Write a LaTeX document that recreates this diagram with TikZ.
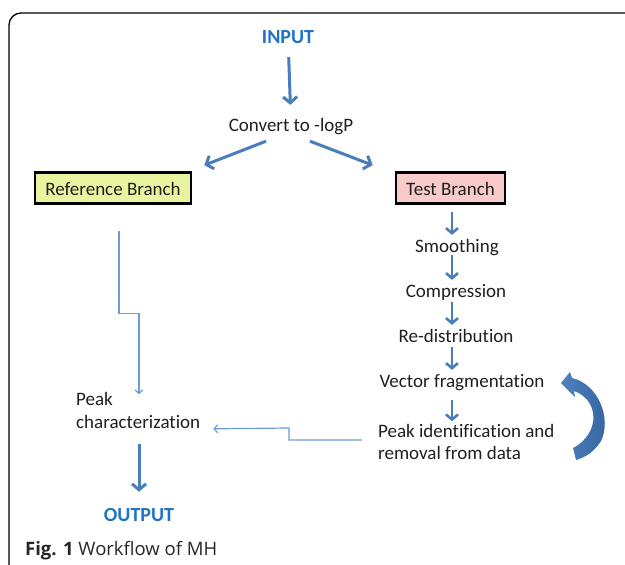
\documentclass[tikz,border=0pt]{standalone}
\usepackage{fontspec}
\setmainfont[Ligatures=NoCommon]{Carlito}
\newfontfamily\capfont{Open Sans}
\usetikzlibrary{arrows.meta,calc}
\definecolor{flowblue}{HTML}{4A7EBB}
\definecolor{linkblue}{HTML}{6B9BD8}
\definecolor{titleblue}{HTML}{1F73C6}
\definecolor{refyellow}{HTML}{EAF4A0}
\definecolor{testpink}{HTML}{F8CACA}
\definecolor{loopdark}{HTML}{34639F}
\definecolor{looplight}{HTML}{4F81BD}
% fixed line height for the two-line labels
\newcommand\lnstrut{\rule[-4pt]{0pt}{16pt}}
\begin{document}
\begin{tikzpicture}[x=1pt,y=-1pt,
  txt/.style={font=\fontsize{19}{23}\selectfont, text=black!88, inner sep=0pt,
              text height=15pt, text depth=1pt},
  multi/.style={font=\fontsize{19}{23}\selectfont, text=black!88, inner sep=0pt,
                align=left, anchor=west},
  title/.style={txt, font=\fontsize{20}{23}\selectfont\bfseries, text=titleblue},
  branch/.style={txt, draw=black, line width=2.6pt, minimum height=31pt},
  bigarrow/.style={draw=flowblue, line width=3pt,
                   -{Straight Barb[length=6pt,width=14pt]}},
  smallarrow/.style={draw=flowblue, line width=2.6pt,
                     -{Straight Barb[length=5pt,width=12pt]}},
  thinarrow/.style={draw=linkblue, line width=1.2pt,
                    -{Straight Barb[length=3.5pt,width=8pt]}}]
\useasboundingbox (0,0) rectangle (625,565);

% outer frame, open to the right and the bottom
\draw[line width=1.3pt, rounded corners=12pt] (9,566) -- (9,13) -- (627,13);

% nodes
\node[title] (in) at (288,36) {INPUT};
\node[txt] (conv) at (291,124) {Convert to -logP};
\node[branch, fill=refyellow, minimum width=156pt] (ref) at (113,188) {Reference Branch};
\node[branch, fill=testpink, minimum width=109pt] (test) at (450.5,188) {Test Branch};
\node[txt] (smooth) at (457,245) {Smoothing};
\node[txt] (comp) at (456,290) {Compression};
\node[txt] (redist) at (456,335) {Re-distribution};
\node[txt] (vec) at (462,380) {Vector fragmentation};
\node[multi, font=\fontsize{19}{22}\selectfont] (peakid) at (378,444)
  {\lnstrut Peak identification and\\\lnstrut removal from data};
\node[multi] (peakch) at (76,412.5) {\lnstrut Peak\\\lnstrut characterization};
\node[title] (out) at (139,514) {OUTPUT};
\node[font=\capfont\fontsize{18.5}{21}\selectfont, text=black!85, inner sep=0pt, anchor=west]
  (cap) at (25,551) {\textbf{Fig. 1} Workflow of MH};

\coordinate (col) at (452,0);

% main flow
\draw[bigarrow, shorten <=13pt, shorten >=11pt] (in) -- (conv);
\draw[bigarrow] ($(conv.south)+(-25,9)$) -- ($(ref.north east)+(12,-6)$);
\draw[bigarrow] ($(conv.south)+(19,9)$) -- ($(test.north west)+(-22,-6)$);
\draw[bigarrow] ($(peakch.south west)+(63,11)$) -- ($(out.north)+(0,-14)$);

% test branch steps
\draw[smallarrow] ($(test.south -| col)+(0,7)$) -- ($(smooth.north -| col)+(0,-2)$);
\draw[smallarrow] ($(smooth.south -| col)+(0,2)$) -- ($(comp.north -| col)+(0,-2)$);
\draw[smallarrow] ($(comp.south -| col)+(0,4)$) -- ($(redist.north -| col)+(0,-2)$);
\draw[smallarrow] ($(redist.south -| col)+(0,4)$) -- ($(vec.north -| col)+(0,-2)$);
\draw[smallarrow] ($(vec.south -| col)+(0,12)$) -- ($(peakid.north -| col)+(0,-3)$);

% thin links into the characterization step
\draw[thinarrow] ($(ref.south)+(6,26)$) -- ++(0,83) -- ++(20,0)
  -- ($(peakch.north west)+(63,2)$);
\draw[thinarrow] ($(peakid.west)+(-16,-4)$) -- ++(-73,0) -- ++(0,-12)
  -- ($(peakch.south east)+(13,-4)$);

% loop-back arrow
\shade[left color=looplight, right color=loopdark]
  (561,383) -- (570,372) -- (572,378)
  .. controls (598,384) and (612,418) .. (601,441)
  .. controls (594,452) and (586,457) .. (576,460)
  -- (573,448)
  .. controls (589,440) and (599,421) .. (590,404)
  .. controls (586,397) and (580,393) .. (574,391)
  -- (575,397) -- cycle;
\end{tikzpicture}
\end{document}
